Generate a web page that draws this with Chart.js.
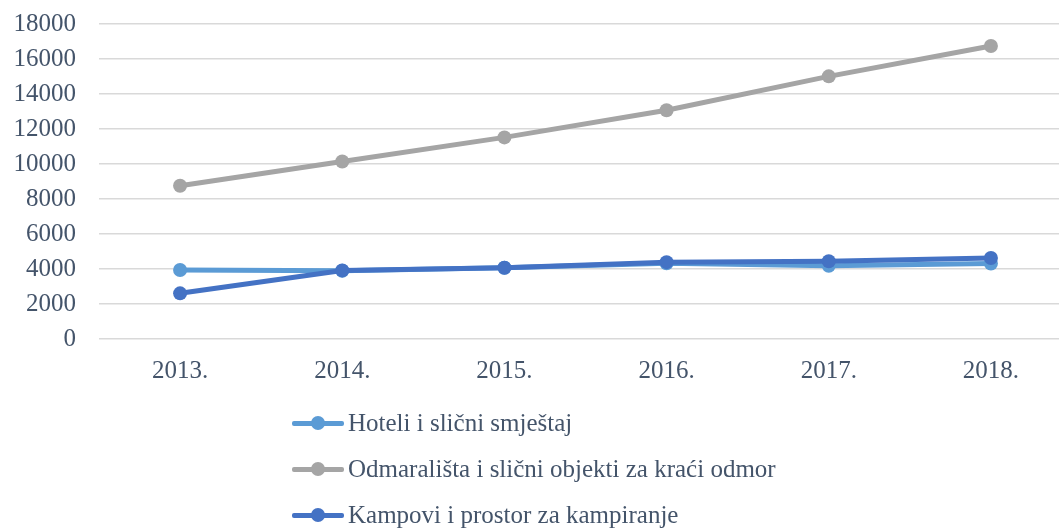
<!DOCTYPE html>
<html>
<head>
<meta charset="utf-8">
<script src="https://cdn.jsdelivr.net/npm/chart.js@4"></script>
<style>
  html, body { margin: 0; padding: 0; background: #fff; overflow: hidden; }
  #wrap { position: relative; width: 1059px; height: 529px; overflow: hidden; }
  #box { position: absolute; left: 0; top: 0; width: 1079px; height: 529px; }
  #legend { position: absolute; left: 292px; top: 400px; font-family: "Liberation Serif", "Times New Roman", serif; font-size: 25px; color: #44546A; }
  .item { height: 46px; display: flex; align-items: center; }
  .mark { position: relative; width: 52px; height: 14px; margin-right: 4px; }
  .mark .ln { position: absolute; left: 0; right: 0; top: 5px; height: 5px; border-radius: 2px; }
  .mark .dot { position: absolute; left: 19px; top: 0; width: 14px; height: 14px; border-radius: 50%; }
</style>
</head>
<body>
<div id="wrap">
  <div id="box"><canvas id="chart"></canvas></div>
  <div id="legend"></div>
</div>
<script>
// data
const years = ['2013.', '2014.', '2015.', '2016.', '2017.', '2018.'];
const hoteli = [3940, 3900, 4070, 4330, 4180, 4310];
const odmaralista = [8760, 10140, 11520, 13070, 15010, 16740];
const kampovi = [2610, 3920, 4070, 4390, 4440, 4630];

const seriesNames = ['Hoteli i slični smještaj', 'Odmarališta i slični objekti za kraći odmor', 'Kampovi i prostor za kampiranje'];
const seriesColors = ['#5B9BD5', '#A5A5A5', '#4472C4'];

const textColor = '#44546A';
const font = { family: '"Liberation Serif", "Times New Roman", serif', size: 25 };

function makeSet(i, data, order) {
    return {
        label: seriesNames[i],
        data: data,
        borderColor: seriesColors[i],
        backgroundColor: seriesColors[i],
        borderWidth: 5,
        pointRadius: 7,
        pointBorderWidth: 0,
        pointBackgroundColor: seriesColors[i],
        tension: 0,
        order: order
    };
}

const chart = new Chart(document.getElementById('chart'), {
    type: 'line',
    data: {
        labels: years,
        datasets: [
            makeSet(0, hoteli, 2),
            makeSet(1, odmaralista, 1),
            makeSet(2, kampovi, 0)
        ]
    },
    options: {
        responsive: true,
        maintainAspectRatio: false,
        animation: false,
        layout: { padding: { top: 24, bottom: 134, left: 0, right: 0 } },
        plugins: { legend: { display: false }, tooltip: { enabled: false } },
        scales: {
            x: {
                offset: true,
                grid: { display: false },
                border: { display: false },
                ticks: { color: textColor, font: font, padding: 9 }
            },
            y: {
                min: 0,
                max: 18000,
                ticks: {
                    stepSize: 2000,
                    autoSkip: false,
                    color: textColor,
                    font: font,
                    padding: 0,
                    callback: v => String(v)
                },
                // invisible tick marks make the gap between labels and plot
                grid: { color: '#D9D9D9', lineWidth: 1.5, drawTicks: true, tickLength: 23, tickColor: 'rgba(0,0,0,0)' },
                border: { display: false },
                afterFit: scale => { scale.width = 99; }
            }
        }
    }
});

// Legend, one row per series
const legend = document.getElementById('legend');
chart.data.datasets.forEach(ds => {
    const row = document.createElement('div');
    row.className = 'item';
    row.innerHTML = `
        <div class="mark"><div class="ln" style="background:${ds.borderColor}"></div><div class="dot" style="background:${ds.borderColor}"></div></div>
        <span>${ds.label}</span>
    `;
    legend.appendChild(row);
});
</script>
</body>
</html>
